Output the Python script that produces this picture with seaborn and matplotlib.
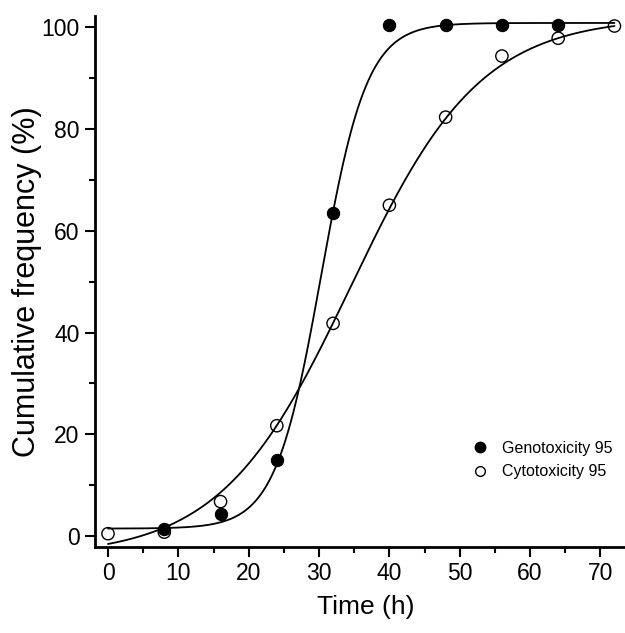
import numpy as np
import pandas as pd
import matplotlib
matplotlib.use("Agg")
import matplotlib.pyplot as plt
from matplotlib.ticker import MultipleLocator
from matplotlib.lines import Line2D
import seaborn as sns

# ---- data ----
geno_time = [8, 16, 24, 32, 40, 48, 56, 64]
geno_freq = [1.5, 4.3, 15.0, 63.5, 100.3, 100.3, 100.3, 100.3]
cyto_time = [0, 8, 16, 24, 32, 40, 48, 56, 64, 72]
cyto_freq = [0.5, 0.8, 6.8, 21.7, 41.8, 65.0, 82.3, 94.3, 97.8, 100.2]

# Boltzmann fit parameters (A1, A2, x0, dx) estimated from the drawn curves
geno_fit = dict(A1=1.5, A2=100.8, x0=30.3, dx=3.27)
cyto_fit = dict(A1=-4.0, A2=102.0, x0=34.5, dx=9.24)
fit_range = (0, 72)

series_labels = ["Genotoxicity 95", "Cytotoxicity 95"]


def boltzmann(x, A1, A2, x0, dx):
    return A2 + (A1 - A2) / (1 + np.exp((x - x0) / dx))


sns.set_theme(style="ticks")
plt.rcParams['font.family'] = ['Liberation Sans', 'DejaVu Sans']
plt.rcParams.update({
    "text.color": "black", "axes.labelcolor": "black",
    "xtick.color": "black", "ytick.color": "black",
    "axes.edgecolor": "black",
})

fig = plt.figure(figsize=(6.25, 6.33), dpi=100)
ax = fig.add_axes([0.152, 0.136, 0.848, 0.839])

xs = np.linspace(fit_range[0], fit_range[1], 400)
curves = pd.DataFrame({
    "x": np.concatenate([xs, xs]),
    "y": np.concatenate([boltzmann(xs, **geno_fit), boltzmann(xs, **cyto_fit)]),
    "s": [series_labels[0]] * len(xs) + [series_labels[1]] * len(xs),
})
for lab in series_labels:
    sns.lineplot(data=curves[curves.s == lab], x="x", y="y", color="black",
                 lw=1.3, ax=ax, legend=False, sort=False)

geno = pd.DataFrame({"t": geno_time, "f": geno_freq})
cyto = pd.DataFrame({"t": cyto_time, "f": cyto_freq})
sns.scatterplot(data=geno, x="t", y="f", marker="o", s=78, color="black",
                edgecolor="black", linewidth=0.8, ax=ax, zorder=3, legend=False)
sns.scatterplot(data=cyto, x="t", y="f", marker="o", s=78, facecolor="none",
                edgecolor="black", linewidth=1.0, ax=ax, zorder=3, legend=False)

ax.set_xlim(-1.85, 73.5)
ax.set_ylim(-2.1, 102.2)
ax.xaxis.set_major_locator(MultipleLocator(10))
ax.xaxis.set_minor_locator(MultipleLocator(5))
ax.yaxis.set_major_locator(MultipleLocator(20))
ax.yaxis.set_minor_locator(MultipleLocator(10))
ax.tick_params(which="major", length=7.5, width=1.5, labelsize=16.5, pad=3.5,
               color="black", labelcolor="black")
ax.tick_params(which="minor", length=4.5, width=1.5, color="black")
for side in ["top", "right"]:
    ax.spines[side].set_visible(False)
for side in ["left", "bottom"]:
    ax.spines[side].set_linewidth(2.0)
    ax.spines[side].set_color("black")

ax.set_xlabel("Time (h)", fontsize=19, color="black")
ax.set_ylabel("Cumulative frequency (%)", fontsize=22, color="black")
ax.xaxis.set_label_coords(0.511, -0.090)
ax.yaxis.set_label_coords(-0.100, 0.5)

handles = [
    Line2D([], [], marker="o", ls="none", color="black", markersize=7.5),
    Line2D([], [], marker="o", ls="none", markerfacecolor="none",
           markeredgecolor="black", markersize=7, markeredgewidth=1.0),
]
leg = ax.legend(handles, series_labels, frameon=False, fontsize=11.5,
                loc="upper left", bbox_to_anchor=(0.699, 0.212),
                handletextpad=0.9, labelspacing=0.55, handlelength=1.0,
                borderpad=0.4, borderaxespad=0)
for t in leg.get_texts():
    t.set_color("black")

fig.savefig("out.png", dpi=100)
